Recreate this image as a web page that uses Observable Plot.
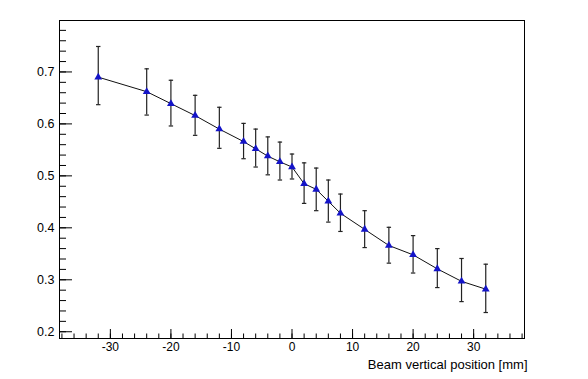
<!DOCTYPE html>
<html>
<head>
<meta charset="utf-8">
<script src="https://cdn.jsdelivr.net/npm/d3@7"></script>
<script src="https://cdn.jsdelivr.net/npm/@observablehq/plot@0.6"></script>
<style>
  html, body { margin: 0; padding: 0; background: #fff; }
  #chart svg { display: block; }
</style>
</head>
<body>
<div id="chart"></div>
<script>
// Data
const positions = [-32, -24, -20, -16, -12, -8, -6, -4, -2, 0, 2, 4, 6, 8, 12, 16, 20, 24, 28, 32];
const values    = [0.690, 0.662, 0.639, 0.616, 0.590, 0.566, 0.552, 0.538, 0.527, 0.517, 0.485, 0.474, 0.451, 0.428, 0.397, 0.366, 0.348, 0.321, 0.297, 0.282];
const lowers    = [0.637, 0.617, 0.596, 0.578, 0.553, 0.533, 0.517, 0.502, 0.492, 0.494, 0.447, 0.433, 0.411, 0.393, 0.362, 0.332, 0.313, 0.285, 0.258, 0.237];
const uppers    = [0.749, 0.706, 0.684, 0.655, 0.632, 0.601, 0.590, 0.575, 0.565, 0.542, 0.525, 0.515, 0.492, 0.465, 0.433, 0.401, 0.385, 0.360, 0.341, 0.330];

const xMajorTicks = [-30, -20, -10, 0, 10, 20, 30];
const xMinorTicks = d3.range(-38, 39, 2);
const yMajorTicks = [0.2, 0.3, 0.4, 0.5, 0.6, 0.7];
const yMinorTicks = d3.range(20, 80, 2).map(v => v / 100);
const xLabel = "Beam vertical position [mm]";

const data = positions.map((x, i) => ({x, y: values[i], lo: lowers[i], hi: uppers[i]}));

const cap = {
  draw(ctx, size) {
    ctx.moveTo(-2.2, 0);
    ctx.lineTo(2.2, 0);
  }
};

const font = "'Liberation Sans', Arial, Helvetica, sans-serif";

const chart = Plot.plot({
  width: 588,
  height: 379,
  marginLeft: 59,
  marginRight: 64,
  marginTop: 20,
  marginBottom: 41,
  style: {fontFamily: font, fontSize: "12px", color: "#000", background: "#fff"},
  x: {domain: [-38.4, 38.4]},
  y: {domain: [0.187, 0.799]},
  marks: [
    Plot.frame({stroke: "#000", strokeWidth: 1}),
    // x ticks (inward)
    Plot.axisX({ticks: xMinorTicks, tickSize: -4.5, tickFormat: () => "", stroke: "#000", label: null}),
    Plot.axisX({ticks: xMajorTicks, tickSize: -9, tickFormat: () => "", stroke: "#000", label: null}),
    Plot.axisX({ticks: xMajorTicks, tickSize: 0, tickPadding: 4, tickFormat: d => String(d), label: null, fontSize: 12}),
    // y ticks (inward)
    Plot.axisY({ticks: yMinorTicks, tickSize: -7, tickFormat: () => "", stroke: "#000", label: null}),
    Plot.axisY({ticks: yMajorTicks, tickSize: 0.1 - 13.1, tickFormat: () => "", stroke: "#000", label: null}),
    Plot.axisY({ticks: yMajorTicks, tickSize: 0, tickPadding: 5, tickFormat: d => d.toFixed(1), label: null, fontSize: 12.5}),
    // error bars
    Plot.ruleX(data, {x: "x", y1: "lo", y2: "hi", stroke: "#222", strokeWidth: 1.2}),
    Plot.dot(data, {x: "x", y: "lo", symbol: cap, r: 3, stroke: "#222", strokeWidth: 1.2}),
    Plot.dot(data, {x: "x", y: "hi", symbol: cap, r: 3, stroke: "#222", strokeWidth: 1.2}),
    // connecting line
    Plot.line(data, {x: "x", y: "y", stroke: "#111", strokeWidth: 1}),
    // markers
    Plot.dot(data, {x: "x", y: "y", symbol: "triangle", r: 2.9, fill: "#1414c8", stroke: "none"}),
    // axis title
    Plot.text([xLabel], {frameAnchor: "bottom-right", dy: 30, dx: 3, textAnchor: "end", lineAnchor: "bottom", fontSize: 13, fill: "#000"})
  ]
});

document.getElementById("chart").appendChild(chart);
</script>
</body>
</html>
